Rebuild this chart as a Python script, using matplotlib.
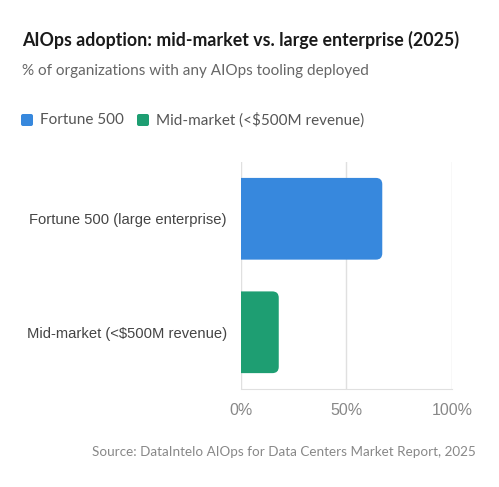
import matplotlib.pyplot as plt
from matplotlib.patches import FancyBboxPatch

categories = ["Fortune 500 (large enterprise)", "Mid-market (<$500M revenue)"]
values = [67, 18]
series_names = ["Fortune 500", "Mid-market (<$500M revenue)"]
colors = ["#3788DD", "#1E9E72"]
ticks = [0, 50, 100]
tick_labels = ["0%", "50%", "100%"]

plt.rcParams['font.family'] = ['Lato', 'DejaVu Sans']
axis_font = ['Liberation Sans', 'DejaVu Sans']

fig = plt.figure(figsize=(4.99, 4.87), dpi=100)
ax = fig.add_axes([0.4824, 0.2012, 0.4234, 0.4661])

ypos = [0, 1]
bars = ax.barh(ypos, values, height=0.72, color=colors)
# swap plain bars for ones with rounded ends
for b, c in zip(bars, colors):
    b.set_visible(False)
    x0, y0 = b.get_x(), b.get_y()
    w, h = b.get_width(), b.get_height()
    p = FancyBboxPatch((x0 - 4, y0), w + 4, h,
                       boxstyle="round,pad=0,rounding_size=3",
                       mutation_aspect=0.0186, fc=c, ec="none", zorder=3)
    ax.add_patch(p)

ax.set_xlim(0, 100)
ax.set_ylim(1.5, -0.5)
ax.set_yticks(ypos)
ax.set_yticklabels(categories, fontsize=10.6, color="#444444", family=axis_font)
ax.set_xticks(ticks)
ax.set_xticklabels(tick_labels, fontsize=11.5, color="#888888", family=axis_font)
ax.tick_params(length=0)
ax.tick_params(axis="x", pad=10)
ax.tick_params(axis="y", pad=10)
ax.grid(axis="x", color="#e0e0e0", linewidth=1, zorder=0)
for s in ["top", "right", "left"]:
    ax.spines[s].set_visible(False)
ax.spines["bottom"].set_color("#e0e0e0")

fig.text(22 / 499, 1 - 40 / 487, "AIOps adoption: mid-market vs. large enterprise (2025)",
         fontsize=12.8, fontweight="bold", color="#1a1a1a", va="center")
fig.text(22 / 499, 1 - 71 / 487, "% of organizations with any AIOps tooling deployed",
         fontsize=11, color="#666666", va="center")

# legend
lx = [21, 137]
for x, name, c in zip(lx, series_names, colors):
    fig.patches.append(FancyBboxPatch((x / 499, 1 - 126 / 487), 12 / 499, 12 / 487,
                                      boxstyle="round,pad=0,rounding_size=0.004",
                                      transform=fig.transFigure, fc=c, ec="none"))
    fig.text((x + 19) / 499, 1 - 120 / 487, name, fontsize=11, color="#555555", va="center")

fig.text(476 / 499, 1 - 452 / 487, "Source: DataIntelo AIOps for Data Centers Market Report, 2025",
         fontsize=9.7, color="#888888", ha="right", va="center")

fig.savefig("out.png", dpi=100, facecolor="white")
